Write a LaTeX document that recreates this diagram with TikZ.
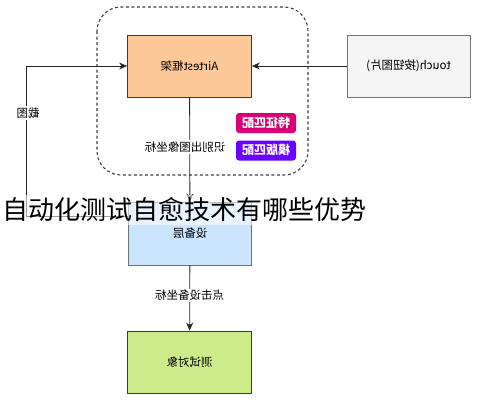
\documentclass[tikz,border=0pt]{standalone}
\usepackage{fontspec}
\setmainfont{Noto Sans CJK SC}
\usetikzlibrary{arrows.meta}
\definecolor{orangefill}{HTML}{FDC898}
\definecolor{greyfill}{HTML}{F5F5F5}
\definecolor{bluefill}{HTML}{CCE5FF}
\definecolor{greenfill}{HTML}{CDEB8B}
\definecolor{magentafill}{HTML}{D80073}
\definecolor{violetfill}{HTML}{6A00FF}
\definecolor{edgegrey}{HTML}{36393D}
\newcommand{\flip}[1]{\reflectbox{#1}}
\begin{document}
\begin{tikzpicture}[x=1pt, y=-1pt,
  box/.style={draw=edgegrey, line width=0.8pt, minimum width=124pt, minimum height=62pt, inner sep=2pt, font=\fontsize{11.5}{13}\selectfont},
  badge/.style={draw=none, rounded corners=3pt, minimum width=60pt, minimum height=20pt, inner sep=1pt, text=white, font=\fontsize{12}{13}\selectfont\bfseries},
  lbl/.style={fill=white, inner sep=1.5pt, font=\fontsize{11.5}{13}\selectfont},
  arr/.style={draw=black!85, line width=0.8pt, -{Stealth[length=8pt, width=7pt, inset=2.5pt]}}]
\useasboundingbox (0,0) rectangle (484,400);
% boundary of the framework
\draw[dash pattern=on 3pt off 2.5pt, line width=1.1pt, draw=black!75, rounded corners=24pt] (97,7) rectangle (308,175);
% boxes
\node[box, fill=orangefill] (airtest) at (189.5,66) {\flip{Airtest框架}};
\node[box, fill=greyfill, draw=black!55, minimum width=123pt] (touch) at (408.5,66) {\flip{touch(按钮图片)}};
\node[box, fill=bluefill, draw=black!55, minimum width=123pt, minimum height=63pt] (dev) at (190,233.5) {\flip{设备层}};
\node[box, fill=greenfill] (target) at (189.5,362) {\flip{测试对象}};
% matching badges
\node[badge, fill=magentafill] (feat) at (266,123) {\flip{特征匹配}};
\node[badge, fill=violetfill] (tmpl) at (266,150.5) {\flip{模版匹配}};
% connectors
\coordinate (devport) at (dev.west |- 0,216);
\draw[arr] (touch) -- (airtest);
\draw[arr] (devport) -- ++(-102,0) |- (airtest.west);
\draw[arr] (airtest) -- (dev);
\draw[arr] (dev) -- (target);
% labels
\node[lbl] (shotlbl) at (28,113) {\flip{截图}};
\node[lbl] (findlbl) at (185,147) {\flip{识别出图像坐标}};
\node[lbl] (clicklbl) at (189.5,295.5) {\flip{点击设备坐标}};
% title over the picture
\node[fill=white, fill opacity=0.55, text opacity=1, inner xsep=1pt, inner ysep=3pt, font=\fontsize{26}{30}\selectfont] (title) at (184,210) {自动化测试自愈技术有哪些优势};
\end{tikzpicture}
\end{document}
